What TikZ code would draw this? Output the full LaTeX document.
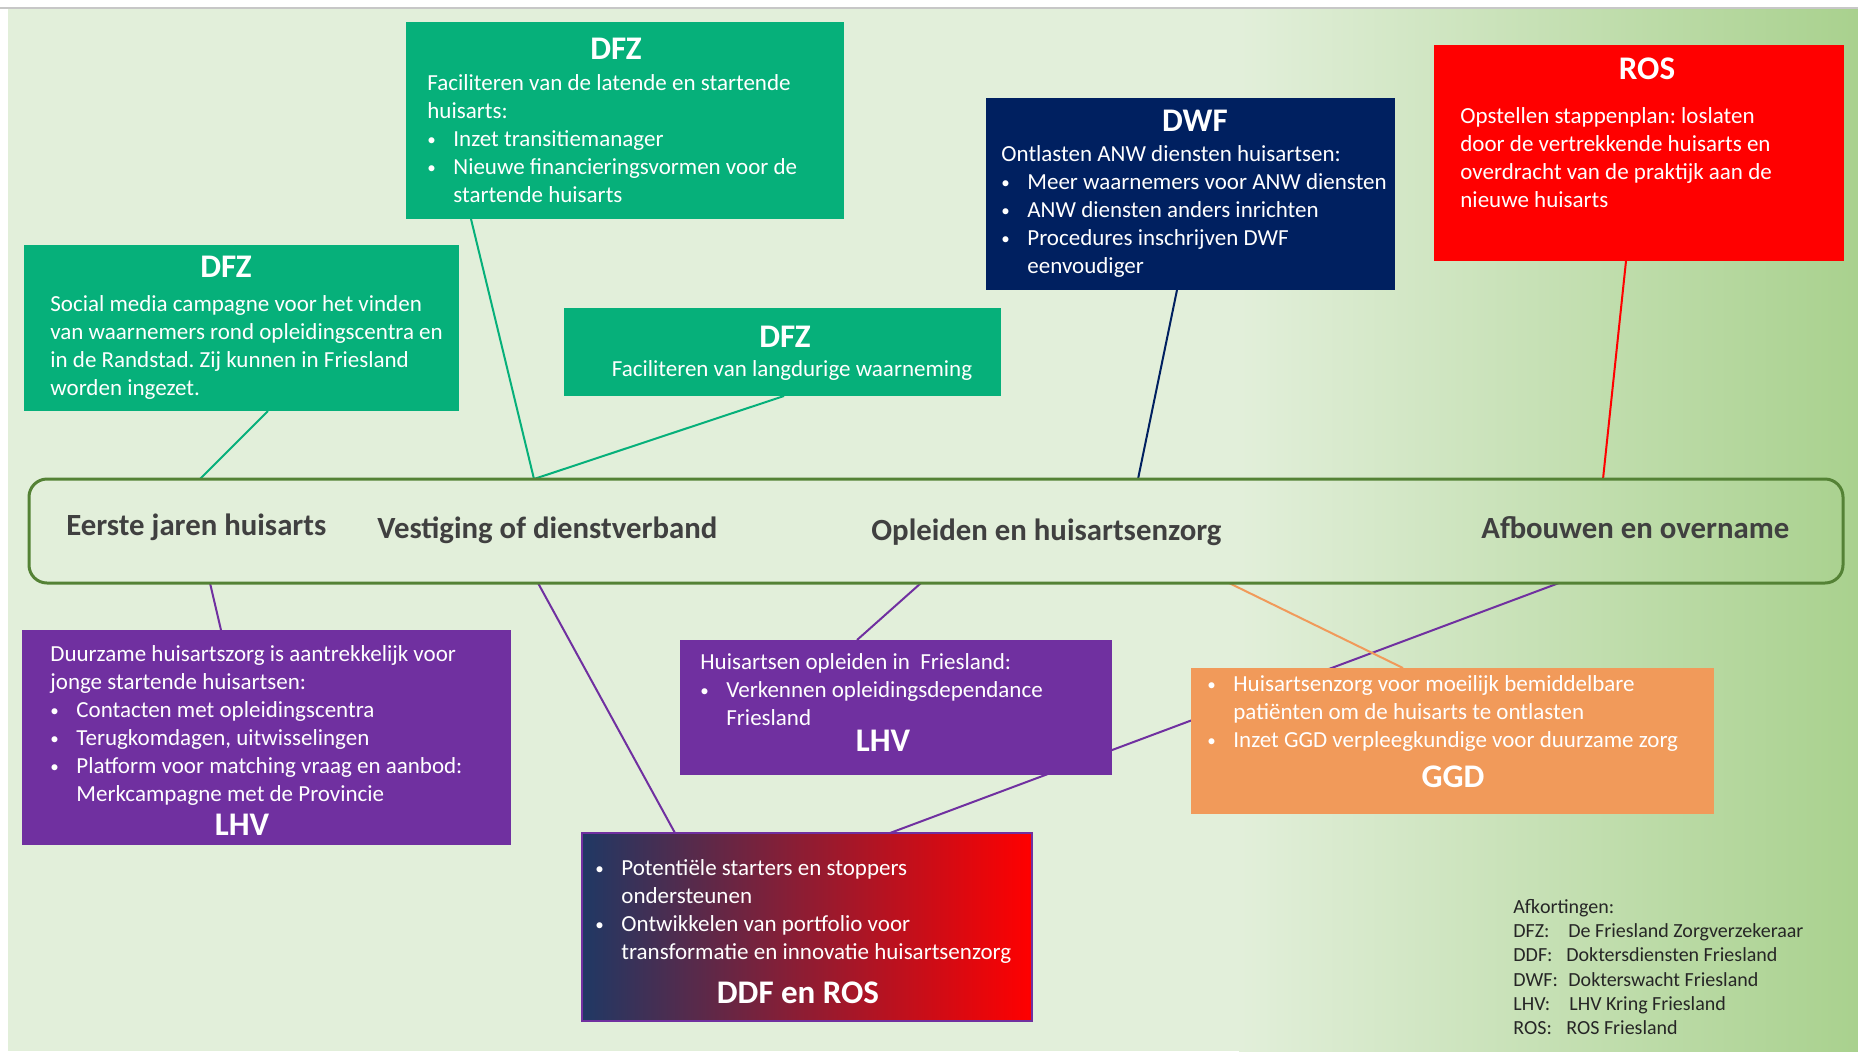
\documentclass[tikz,border=0pt]{standalone}
\usepackage{fontspec}
\setmainfont{Carlito}

\definecolor{dfzGroen}{HTML}{06B07A}
\definecolor{dwfBlauw}{HTML}{002060}
\definecolor{rosRood}{HTML}{FF0000}
\definecolor{lhvPaars}{HTML}{7030A0}
\definecolor{ggdOranje}{HTML}{F19A5A}
\definecolor{ddfBlauw}{HTML}{203864}
\definecolor{achtergrond}{HTML}{E2EFDA}
\definecolor{achtergrondDonker}{HTML}{A9D18E}
\definecolor{faseRand}{HTML}{548235}
\definecolor{faseTekst}{HTML}{404040}
\definecolor{legendaTekst}{HTML}{262626}

\newcommand{\bol}{\makebox[13pt][l]{\raisebox{0.6pt}{\fontsize{8.5}{8.5}\selectfont\textbullet}}}
\newcommand{\inspr}{\makebox[13pt]{}}

\pgfdeclarelayer{achter}
\pgfsetlayers{achter,main}

\begin{document}
\frenchspacing
\begin{tikzpicture}[
  x=0.5pt, y=-0.5pt,
  blok/.style={rectangle, inner sep=0pt, outer sep=0pt},
  titel/.style={font=\bfseries\fontsize{16.5}{18}\selectfont, text=white, inner sep=0pt},
  tekst/.style={font=\fontsize{11.5}{14}\selectfont, text=white, align=left, anchor=north west, inner sep=0pt},
  fase/.style={font=\bfseries\fontsize{15.4}{18}\selectfont, text=faseTekst, anchor=base west, inner sep=0pt},
  lijn/.style={line width=1pt}
]
\useasboundingbox (0,0) rectangle (1858,1051);
\begin{pgfonlayer}{achter}
\fill[white] (0,0) rectangle (1858,1051);
\fill[achtergrond] (8,9) rectangle (1240,1051);
\shade[left color=achtergrond, right color=achtergrondDonker] (1239,9) rectangle (1858,1051);
\draw[black!22, line width=1pt] (0,8) -- (1858,8);
\end{pgfonlayer}

% tijdlijn met de fasen
\node[blok, draw=faseRand, line width=1.5pt, rounded corners=9pt, minimum width=907pt, minimum height=52pt] (tijdlijn) at (936,531) {};
\node[fase] (fase1) at (66,535) {Eerste jaren huisarts};
\node[fase] (fase2) at (377,538) {Vestiging of dienstverband};
\node[fase] (fase3) at (871,540) {Opleiden en huisartsenzorg};
\node[fase] (fase4) at (1481,538) {Afbouwen en overname};

% boven de tijdlijn
\node[blok, fill=dfzGroen, minimum width=219pt, minimum height=98.5pt] (dfzBoven) at (625,120.5) {};
\node[titel] (dfzBovenKop) at (616,49) {DFZ};
\node[tekst] (dfzBovenTekst) at (427,74.5) {Faciliteren van de latende en startende\\huisarts:\\\bol Inzet transitiemanager\\\bol Nieuwe financieringsvormen voor de\\\inspr startende huisarts};

\node[blok, fill=dfzGroen, minimum width=217.5pt, minimum height=83pt] (dfzLinks) at (241.5,328) {};
\node[titel] (dfzLinksKop) at (226,267) {DFZ};
\node[tekst] (dfzLinksTekst) at (50,295.5) {Social media campagne voor het vinden\\van waarnemers rond opleidingscentra en\\in de Randstad. Zij kunnen in Friesland\\worden ingezet.};

\node[blok, fill=dfzGroen, minimum width=218.5pt, minimum height=44pt] (dfzMidden) at (782.5,352) {};
\node[titel] (dfzMiddenKop) at (785,337) {DFZ};
\node[tekst, anchor=center] (dfzMiddenTekst) at (792,370) {Faciliteren van langdurige waarneming};

\node[blok, fill=dwfBlauw, minimum width=204.5pt, minimum height=96pt] (dwf) at (1190.5,194) {};
\node[titel] (dwfKop) at (1195,121) {DWF};
\node[tekst] (dwfTekst) at (1001,145.5) {Ontlasten ANW diensten huisartsen:\\\bol Meer waarnemers voor ANW diensten\\\bol ANW diensten anders inrichten\\\bol Procedures inschrijven DWF\\\inspr eenvoudiger};

\node[blok, fill=rosRood, minimum width=205pt, minimum height=108pt] (ros) at (1639,153) {};
\node[titel] (rosKop) at (1647,69) {ROS};
\node[tekst] (rosTekst) at (1460,107) {Opstellen stappenplan: loslaten\\door de vertrekkende huisarts en\\overdracht van de praktijk aan de\\nieuwe huisarts};

% onder de tijdlijn
\node[blok, fill=lhvPaars, minimum width=244.5pt, minimum height=107.5pt] (lhvLinks) at (266.5,737.5) {};
\node[tekst] (lhvLinksTekst) at (50,645.5) {Duurzame huisartszorg is aantrekkelijk voor\\jonge startende huisartsen:\\\bol Contacten met opleidingscentra\\\bol Terugkomdagen, uitwisselingen\\\bol Platform voor matching vraag en aanbod:\\\inspr Merkcampagne met de Provincie};
\node[titel] (lhvLinksKop) at (242,825) {LHV};

\node[blok, fill=lhvPaars, minimum width=216pt, minimum height=67.5pt] (lhvMidden) at (896,707.5) {};
\node[tekst] (lhvMiddenTekst) at (700,653.5) {Huisartsen opleiden in \ Friesland:\\\bol Verkennen opleidingsdependance\\\inspr Friesland};
\node[titel] (lhvMiddenKop) at (883,741) {LHV};

\node[blok, fill=ggdOranje, minimum width=261.5pt, minimum height=73pt] (ggd) at (1452.5,741) {};
\node[tekst] (ggdTekst) at (1207,675) {\bol Huisartsenzorg voor moeilijk bemiddelbare\\\inspr patiënten om de huisarts te ontlasten\\\bol Inzet GGD verpleegkundige voor duurzame zorg};
\node[titel] (ggdKop) at (1453,777) {GGD};

\node[blok, left color=ddfBlauw, right color=rosRood, draw=lhvPaars, line width=1pt, minimum width=225pt, minimum height=94pt] (ddf) at (807,927) {};
\node[tekst] (ddfTekst) at (595,859.5) {\bol Potentiële starters en stoppers\\\inspr ondersteunen\\\bol Ontwikkelen van portfolio voor\\\inspr transformatie en innovatie huisartsenzorg};
\node[titel] (ddfKop) at (798,993) {DDF en ROS};

% afkortingen
\node[font=\fontsize{10}{12.1}\selectfont, text=legendaTekst, align=left, anchor=north west, inner sep=0pt] (legenda) at (1513,899) {Afkortingen:\\\makebox[27.5pt][l]{DFZ:}De Friesland Zorgverzekeraar\\\makebox[26.5pt][l]{DDF:}Doktersdiensten Friesland\\\makebox[27.5pt][l]{DWF:}Dokterswacht Friesland\\\makebox[28pt][l]{LHV:}LHV Kring Friesland\\\makebox[26.5pt][l]{ROS:}ROS Friesland};

% verbindingen
\begin{pgfonlayer}{achter}
\draw[lijn, dfzGroen] ([xshift=13.25pt]dfzLinks.south) -- ([xshift=85.5pt]tijdlijn.north west);
\draw[lijn, dfzGroen] ([xshift=-77pt]dfzBoven.south) -- ([xshift=252.5pt]tijdlijn.north west);
\draw[lijn, dfzGroen] ([xshift=0.75pt]dfzMidden.south) -- ([xshift=252.5pt]tijdlijn.north west);
\draw[lijn, dwfBlauw] ([xshift=-6.75pt]dwf.south) -- ([xshift=554.5pt]tijdlijn.north west);
\draw[lijn, rosRood] ([xshift=-6.5pt]ros.south) -- ([xshift=787pt]tijdlijn.north west);
\draw[lijn, lhvPaars] ([xshift=90.5pt]tijdlijn.south west) -- ([xshift=-22.75pt]lhvLinks.north);
\draw[lijn, lhvPaars] ([xshift=254.5pt]tijdlijn.south west) -- ([xshift=-66pt]ddf.north);
\draw[lijn, lhvPaars] ([xshift=446pt]tijdlijn.south west) -- ([xshift=-19.5pt]lhvMidden.north);
\draw[lijn, lhvPaars] ([xshift=765pt]tijdlijn.south west) -- ([xshift=41.5pt]ddf.north);
\draw[lijn, ggdOranje] ([xshift=600pt]tijdlijn.south west) -- ([xshift=-24.75pt]ggd.north);
\end{pgfonlayer}
\end{tikzpicture}
\end{document}
